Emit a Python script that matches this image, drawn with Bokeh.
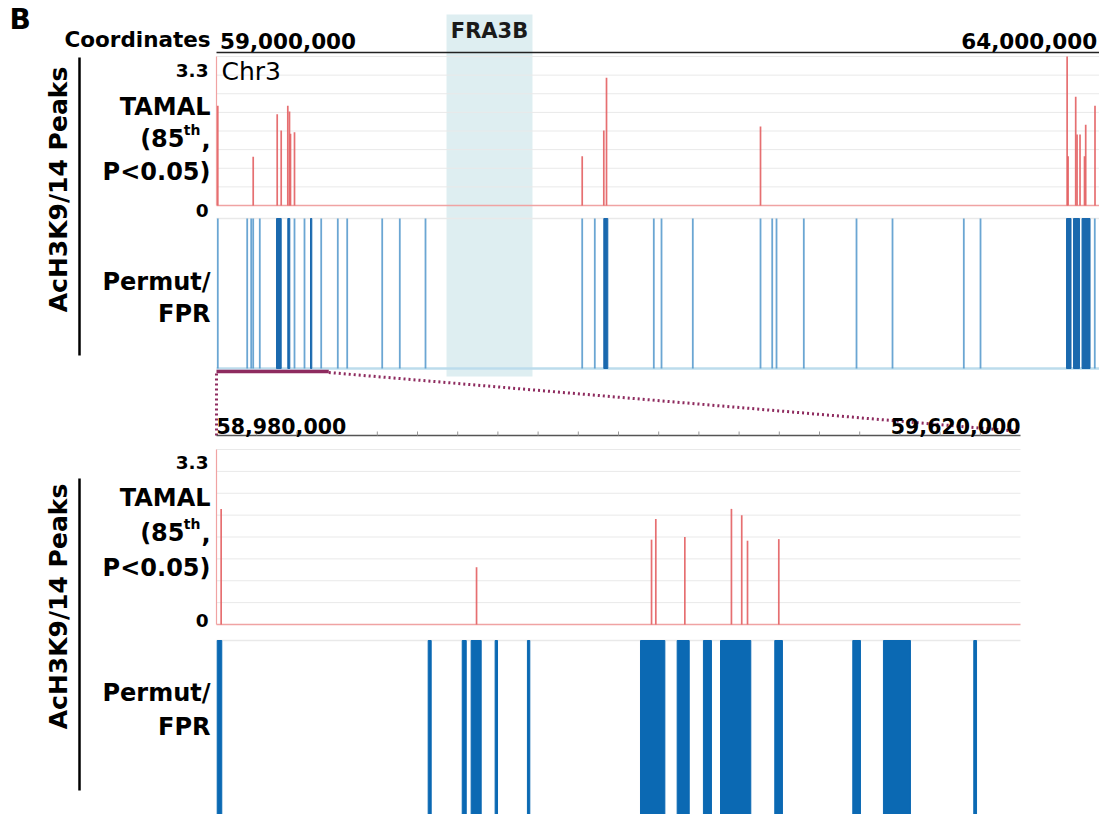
import math
from bokeh.plotting import figure
from bokeh.models import Range1d
from bokeh.core.properties import value
from bokeh.embed import file_html
from bokeh.resources import INLINE

# ---------------- data (chr3, bp) ----------------
TOP_VIEW = (58_980_000, 64_013_000)
ZOOM_VIEW = (58_980_000, 59_620_000)
TAMAL_MAX = 3.3
FRA3B = (60_291_000, 60_781_000)

top_labels = ["59,000,000", "64,000,000"]
top_label_pos = [59_000_000, 64_000_000]
zoom_labels = ["58,980,000", "59,620,000"]

# TAMAL peaks, whole-region view
top_tamal_pos = [58_987_400, 59_189_200, 59_326_000, 59_348_800, 59_386_400, 59_396_100,
                 59_401_800, 59_424_600, 61_064_500, 61_187_600, 61_203_000, 62_080_800,
                 63_828_500, 63_834_000, 63_877_400, 63_885_100, 63_902_000, 63_927_600,
                 63_934_400, 63_987_400]
top_tamal_val = [2.21, 1.08, 2.02, 1.66, 2.21, 2.08,
                 1.59, 1.62, 1.09, 1.66, 2.83, 1.75,
                 3.30, 1.09, 2.41, 1.57, 1.57, 1.09,
                 1.79, 2.21]

# Permut/FPR features, whole-region view
top_permut_pos = [58_987_400, 59_155_000, 59_177_800, 59_189_200, 59_226_800, 59_424_600,
                  59_481_600, 59_576_800, 59_671_400, 59_725_000, 59_924_500, 60_024_800,
                  60_171_300, 61_064_500, 61_136_300, 61_472_600, 61_516_500, 61_694_900,
                  62_080_800, 62_147_500, 62_172_000, 62_327_600, 62_628_000, 62_833_200,
                  63_239_600, 63_334_800, 63_986_100]
top_permut_block_start = [59_322_000, 59_386_400, 59_515_800, 61_187_600, 63_825_000, 63_864_900, 63_913_500]
top_permut_block_end = [59_348_800, 59_397_800, 59_523_200, 61_210_400, 63_850_600, 63_899_100, 63_959_100]

# TAMAL peaks, zoomed view
zoom_tamal_pos = [58_983_700, 59_187_000, 59_326_300, 59_329_700, 59_352_800, 59_389_900,
                  59_398_100, 59_402_700, 59_427_600]
zoom_tamal_val = [2.18, 1.08, 1.60, 1.99, 1.65, 2.18, 2.06, 1.58, 1.61]

# Permut/FPR regions, zoomed view
zoom_permut_start = [58_980_560, 59_148_500, 59_175_600, 59_182_700, 59_201_800, 59_227_500,
                     59_317_500, 59_346_700, 59_367_600, 59_381_200, 59_424_400, 59_486_500,
                     59_510_900, 59_582_800]
zoom_permut_end = [58_984_200, 59_150_900, 59_178_800, 59_190_700, 59_203_700, 59_229_400,
                   59_336_900, 59_356_300, 59_374_000, 59_405_300, 59_430_500, 59_492_600,
                   59_532_400, 59_585_000]
zoom_tick_step = 32_000

# ---------------- layout (pixels) ----------------
W, H = 1099, 814
X0, X1_TOP, X1_ZOOM = 216, 1099, 1020
TOP_AXIS_Y = 52
ZOOM_AXIS_Y = 435
FONT = value("DejaVu Sans")

RED = "#e35f62"
RED_LIGHT = "#f0a3a3"
BLUE = "#5196cb"
BLUE_DARK = "#1a69ae"
BLUE_ZOOM = "#0b69b3"
PURPLE = "#8e2b5f"
GRID = "#e9e9e9"


def xr(view, p0, p1):
    s = (view[1] - view[0]) / (p1 - p0)
    return Range1d(start=view[0] - p0 * s, end=view[0] + (W - p0) * s)


def yr(v0, v1, py0, py1):
    s = (v1 - v0) / (py1 - py0)
    return Range1d(start=v0 + (H - py0) * s, end=v0 - py0 * s)


def px_of(rng, v):
    return (v - rng.start) / (rng.end - rng.start) * W


p = figure(width=W, height=H, x_range=Range1d(0, W), y_range=Range1d(H, 0),
           x_axis_type=None, y_axis_type=None, toolbar_location=None,
           output_backend="svg", min_border=0, outline_line_color=None)
p.background_fill_color = "white"
p.border_fill_color = "white"

p.extra_x_ranges = {"top": xr(TOP_VIEW, X0, X1_TOP), "zoom": xr(ZOOM_VIEW, X0, X1_ZOOM)}
p.extra_y_ranges = {
    "t_tamal": yr(0, TAMAL_MAX, 205, 56),
    "t_perm": yr(0, 1, 368, 218),
    "z_tamal": yr(0, TAMAL_MAX, 624, 449),
    "z_perm": yr(0, 1, 816, 640),
}

# FRA3B shading
p.quad(left=[FRA3B[0]], right=[FRA3B[1]], top=[14], bottom=[376], x_range_name="top",
       fill_color="#d8ebef", fill_alpha=0.85, line_color=None)

# ---------- grids ----------
grid_vals = [TAMAL_MAX * k / 8 for k in range(1, 9)]
p.segment(x0=[TOP_VIEW[0]] * 8, x1=[TOP_VIEW[1]] * 8, y0=grid_vals, y1=grid_vals,
          x_range_name="top", y_range_name="t_tamal", line_color=GRID, line_width=1)
p.segment(x0=[ZOOM_VIEW[0]] * 8, x1=[ZOOM_VIEW[1]] * 8, y0=grid_vals, y1=grid_vals,
          x_range_name="zoom", y_range_name="z_tamal", line_color=GRID, line_width=1)
p.segment(x0=[TOP_VIEW[0]], x1=[TOP_VIEW[1]], y0=[1], y1=[1],
          x_range_name="top", y_range_name="t_perm", line_color=GRID, line_width=1.5)
p.segment(x0=[ZOOM_VIEW[0]], x1=[ZOOM_VIEW[1]], y0=[1], y1=[1],
          x_range_name="zoom", y_range_name="z_perm", line_color=GRID, line_width=1.5)

# ---------- top panel ----------
p.segment(x0=[TOP_VIEW[0]], x1=[TOP_VIEW[1]], y0=[TOP_AXIS_Y], y1=[TOP_AXIS_Y],
          x_range_name="top", line_color="#222222", line_width=1.6)

# TAMAL track
p.segment(x0=[TOP_VIEW[0]], x1=[TOP_VIEW[0]], y0=[0], y1=[TAMAL_MAX], x_range_name="top",
          y_range_name="t_tamal", line_color=RED_LIGHT, line_width=1.2)
p.segment(x0=[TOP_VIEW[0]], x1=[TOP_VIEW[1]], y0=[0], y1=[0], x_range_name="top",
          y_range_name="t_tamal", line_color=RED_LIGHT, line_width=1.6)
p.segment(x0=top_tamal_pos, x1=top_tamal_pos, y0=[0] * len(top_tamal_pos), y1=top_tamal_val,
          x_range_name="top", y_range_name="t_tamal", line_color=RED, line_width=1.7, line_alpha=0.9)

# Permut/FPR track
p.segment(x0=[TOP_VIEW[0]], x1=[TOP_VIEW[1]], y0=[0], y1=[0], x_range_name="top",
          y_range_name="t_perm", line_color="#bcdcec", line_width=2.5)
p.segment(x0=top_permut_pos, x1=top_permut_pos, y0=[0] * len(top_permut_pos),
          y1=[1] * len(top_permut_pos), x_range_name="top", y_range_name="t_perm",
          line_color=BLUE, line_width=1.8, line_alpha=0.85)
p.quad(left=top_permut_block_start, right=top_permut_block_end,
       bottom=[0] * len(top_permut_block_start), top=[1] * len(top_permut_block_start),
       x_range_name="top", y_range_name="t_perm", fill_color=BLUE_DARK, line_color=BLUE_DARK,
       line_width=1)

# ---------- zoom connector ----------
rt = p.extra_x_ranges["top"]
rz = p.extra_x_ranges["zoom"]
p.segment(x0=[ZOOM_VIEW[0]], x1=[ZOOM_VIEW[1]], y0=[371], y1=[371], x_range_name="top",
          line_color=PURPLE, line_width=3.5)
p.segment(x0=[px_of(rt, ZOOM_VIEW[1]), px_of(rz, ZOOM_VIEW[0])],
          x1=[px_of(rz, ZOOM_VIEW[1]), px_of(rz, ZOOM_VIEW[0])],
          y0=[372, 373], y1=[431, 436], line_color=PURPLE, line_width=3, line_dash="2 3")

# ---------- zoom panel ----------
p.segment(x0=[ZOOM_VIEW[0]], x1=[ZOOM_VIEW[1]], y0=[ZOOM_AXIS_Y], y1=[ZOOM_AXIS_Y],
          x_range_name="zoom", line_color="#555555", line_width=1.3)
ticks = list(range(ZOOM_VIEW[0] + zoom_tick_step, ZOOM_VIEW[1], zoom_tick_step))
p.segment(x0=ticks, x1=ticks, y0=[ZOOM_AXIS_Y - 4] * len(ticks), y1=[ZOOM_AXIS_Y] * len(ticks),
          x_range_name="zoom", line_color="#999999", line_width=1)

p.segment(x0=[ZOOM_VIEW[0]], x1=[ZOOM_VIEW[0]], y0=[0], y1=[TAMAL_MAX], x_range_name="zoom",
          y_range_name="z_tamal", line_color=RED_LIGHT, line_width=1.2)
p.segment(x0=[ZOOM_VIEW[0]], x1=[ZOOM_VIEW[1]], y0=[0], y1=[0], x_range_name="zoom",
          y_range_name="z_tamal", line_color=RED_LIGHT, line_width=1.6)
p.segment(x0=zoom_tamal_pos, x1=zoom_tamal_pos, y0=[0] * len(zoom_tamal_pos), y1=zoom_tamal_val,
          x_range_name="zoom", y_range_name="z_tamal", line_color=RED, line_width=1.7, line_alpha=0.9)

p.quad(left=zoom_permut_start, right=zoom_permut_end, bottom=[0] * len(zoom_permut_start),
       top=[1] * len(zoom_permut_start), x_range_name="zoom", y_range_name="z_perm",
       fill_color=BLUE_ZOOM, line_color=BLUE_ZOOM, line_width=1)

# ---------- texts (y = visual centre) ----------
def txt(x, y, s, size, align="left", bold=True, angle=0.0, xr_name="default", color="black"):
    p.text(x=[x], y=[y], text=[s], text_font=FONT, text_font_size=f"{size}px",
           text_font_style="bold" if bold else "normal", text_align=align,
           text_baseline="middle", angle=angle, text_color=color, x_range_name=xr_name)

txt(9, 19, "B", 28)
txt(64, 39, "Coordinates", 21.5)
txt(top_label_pos[0], 40, top_labels[0], 21.5, xr_name="top")
txt(top_label_pos[1], 40, top_labels[1], 21.5, align="right", xr_name="top")
txt((FRA3B[0] + FRA3B[1]) / 2, 30, "FRA3B", 21, align="center", xr_name="top", color="#1a1a1a")
txt(221, 71, "Chr3", 25, bold=False)

txt(ZOOM_VIEW[0], 425, zoom_labels[0], 20.5, xr_name="zoom")
txt(ZOOM_VIEW[1], 425, zoom_labels[1], 20.5, align="right", xr_name="zoom")


def track_labels(y_top, y_zero, y_tamal, y_85, y_p, y_perm, y_fpr):
    txt(208, y_top, "3.3", 18.5, align="right")
    txt(208, y_zero, "0", 18.5, align="right")
    txt(210, y_tamal, "TAMAL", 24, align="right")
    txt(210, y_85, ",", 24, align="right")
    txt(200, y_85 - 9, "th", 14, align="right")
    txt(184, y_85, "(85", 24, align="right")
    txt(210, y_p, "P<0.05)", 24, align="right")
    txt(210, y_perm, "Permut/", 24, align="right")
    txt(210, y_fpr, "FPR", 24, align="right")


track_labels(70, 210, 106, 138, 171, 281, 313)
track_labels(462, 620, 497, 532, 567, 692, 726)

txt(58, 189, "AcH3K9/14 Peaks", 25, align="center", angle=math.pi / 2)
txt(58, 606, "AcH3K9/14 Peaks", 25, align="center", angle=math.pi / 2)
p.segment(x0=[79, 79], x1=[79, 79], y0=[57, 478], y1=[355, 790], line_color="black", line_width=2.5)

open("out.html", "w").write(file_html(p, INLINE))
